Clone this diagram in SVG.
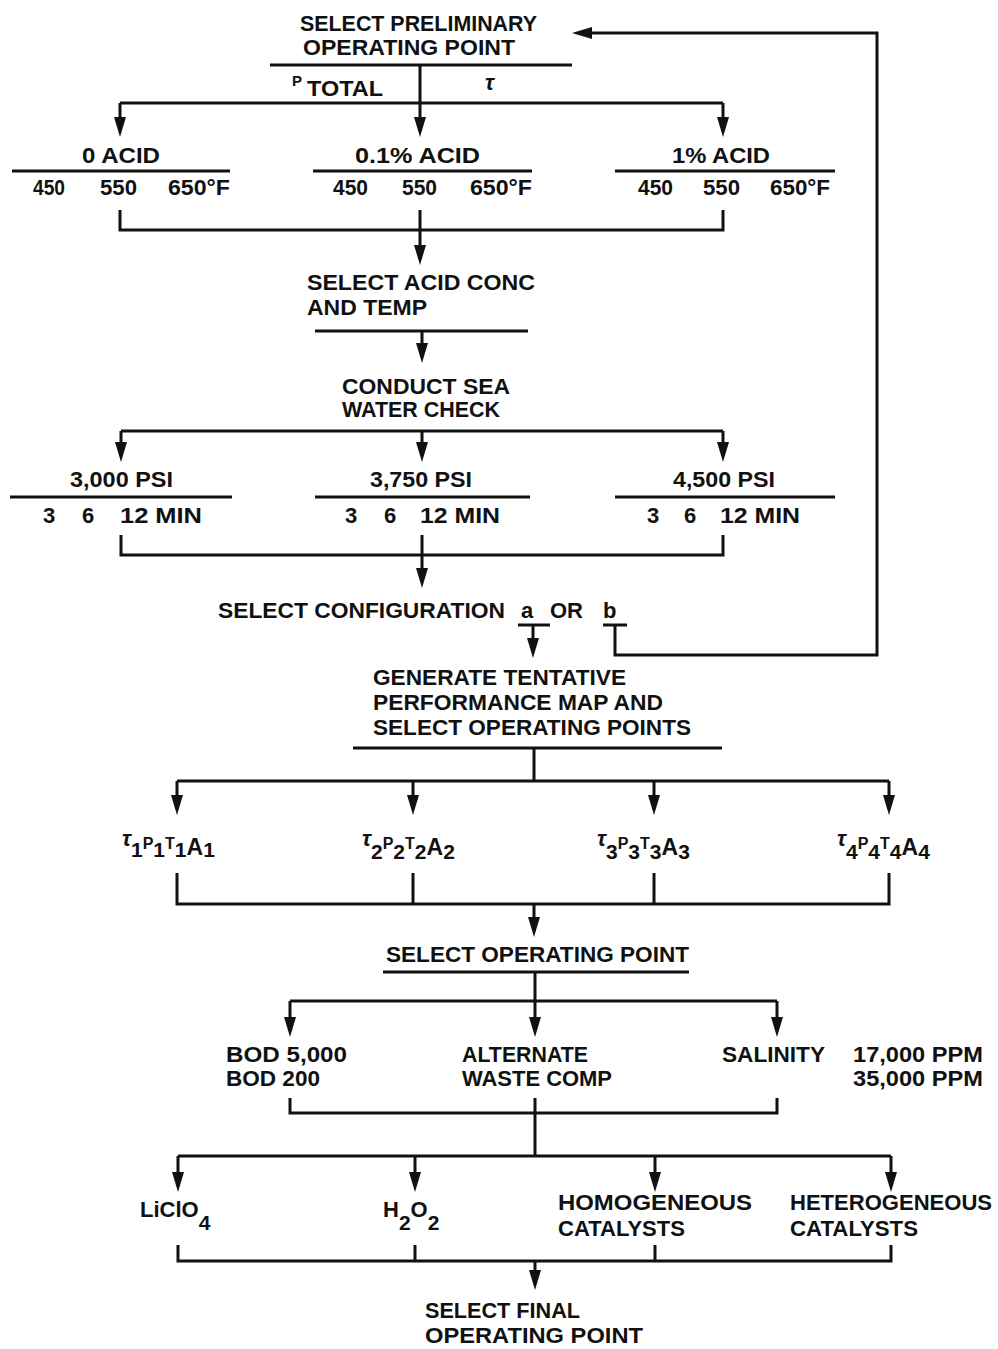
<svg xmlns="http://www.w3.org/2000/svg" width="998" height="1349" viewBox="0 0 998 1349">
<style>
.t{font-family:"Liberation Sans",Arial,sans-serif;font-weight:bold;font-size:22px;fill:#111}
.s{font-size:15px}
.d{font-size:21px}
.c{stroke:#111;stroke-width:3;fill:none}
.a{stroke:#111;stroke-width:3;fill:none;marker-end:url(#ah)}
</style>
<defs>
<marker id="ah" viewBox="0 0 20 12" refX="14" refY="6" markerWidth="20" markerHeight="12" markerUnits="userSpaceOnUse" orient="auto">
<path d="M0,0 L20,6 L0,12 z" fill="#111"/>
</marker>
</defs>
<rect width="998" height="1349" fill="#fff"/>

<g id="n-prelim">
<text class="t" x="300" y="31" textLength="237" lengthAdjust="spacingAndGlyphs">SELECT PRELIMINARY</text>
<text class="t" x="303" y="55" textLength="212" lengthAdjust="spacingAndGlyphs">OPERATING POINT</text>
<line class="c" x1="270" y1="65" x2="572" y2="65"/>
<text class="t s" x="292" y="86">P</text>
<text class="t" x="307" y="96" textLength="76" lengthAdjust="spacingAndGlyphs">TOTAL</text>
<text class="t" x="485" y="90" font-style="italic">τ</text>
</g>

<g id="n-acid0">
<text class="t" x="82" y="163" textLength="78" lengthAdjust="spacingAndGlyphs">0 ACID</text>
<line class="c" x1="12" y1="171" x2="230" y2="171"/>
<text class="t" x="33" y="195" textLength="32" lengthAdjust="spacingAndGlyphs">450</text>
<text class="t" x="100" y="195" textLength="37" lengthAdjust="spacingAndGlyphs">550</text>
<text class="t" x="168" y="195" textLength="62" lengthAdjust="spacingAndGlyphs">650°F</text>
</g>
<g id="n-acid01">
<text class="t" x="355" y="163" textLength="125" lengthAdjust="spacingAndGlyphs">0.1% ACID</text>
<line class="c" x1="313" y1="171" x2="532" y2="171"/>
<text class="t" x="333" y="195" textLength="35" lengthAdjust="spacingAndGlyphs">450</text>
<text class="t" x="402" y="195" textLength="35" lengthAdjust="spacingAndGlyphs">550</text>
<text class="t" x="470" y="195" textLength="62" lengthAdjust="spacingAndGlyphs">650°F</text>
</g>
<g id="n-acid1">
<text class="t" x="672" y="163" textLength="98" lengthAdjust="spacingAndGlyphs">1% ACID</text>
<line class="c" x1="615" y1="171" x2="835" y2="171"/>
<text class="t" x="638" y="195" textLength="35" lengthAdjust="spacingAndGlyphs">450</text>
<text class="t" x="703" y="195" textLength="37" lengthAdjust="spacingAndGlyphs">550</text>
<text class="t" x="770" y="195" textLength="60" lengthAdjust="spacingAndGlyphs">650°F</text>
</g>

<g id="n-acidconc">
<text class="t" x="307" y="290" textLength="228" lengthAdjust="spacingAndGlyphs">SELECT ACID CONC</text>
<text class="t" x="307" y="315" textLength="120" lengthAdjust="spacingAndGlyphs">AND TEMP</text>
<line class="c" x1="315" y1="331" x2="528" y2="331"/>
</g>
<g id="n-seawater">
<text class="t" x="342" y="394" textLength="168" lengthAdjust="spacingAndGlyphs">CONDUCT SEA</text>
<text class="t" x="342" y="417" textLength="158" lengthAdjust="spacingAndGlyphs">WATER CHECK</text>
</g>

<g id="n-psi3000">
<text class="t" x="70" y="487" textLength="103" lengthAdjust="spacingAndGlyphs">3,000 PSI</text>
<line class="c" x1="10" y1="497" x2="232" y2="497"/>
<text class="t" x="43" y="523">3</text>
<text class="t" x="82" y="523">6</text>
<text class="t" x="120" y="523" textLength="82" lengthAdjust="spacingAndGlyphs">12 MIN</text>
</g>
<g id="n-psi3750">
<text class="t" x="370" y="487" textLength="102" lengthAdjust="spacingAndGlyphs">3,750 PSI</text>
<line class="c" x1="315" y1="497" x2="530" y2="497"/>
<text class="t" x="345" y="523">3</text>
<text class="t" x="384" y="523">6</text>
<text class="t" x="420" y="523" textLength="80" lengthAdjust="spacingAndGlyphs">12 MIN</text>
</g>
<g id="n-psi4500">
<text class="t" x="673" y="487" textLength="102" lengthAdjust="spacingAndGlyphs">4,500 PSI</text>
<line class="c" x1="615" y1="497" x2="835" y2="497"/>
<text class="t" x="647" y="523">3</text>
<text class="t" x="684" y="523">6</text>
<text class="t" x="720" y="523" textLength="80" lengthAdjust="spacingAndGlyphs">12 MIN</text>
</g>

<g id="n-config">
<text class="t" x="218" y="618" textLength="287" lengthAdjust="spacingAndGlyphs">SELECT CONFIGURATION</text>
<text class="t" x="521" y="618">a</text>
<text class="t" x="550" y="618" textLength="33" lengthAdjust="spacingAndGlyphs">OR</text>
<text class="t" x="603" y="618">b</text>
</g>

<g id="n-generate">
<text class="t" x="373" y="685" textLength="253" lengthAdjust="spacingAndGlyphs">GENERATE TENTATIVE</text>
<text class="t" x="373" y="710" textLength="290" lengthAdjust="spacingAndGlyphs">PERFORMANCE MAP AND</text>
<text class="t" x="373" y="735" textLength="318" lengthAdjust="spacingAndGlyphs">SELECT OPERATING POINTS</text>
<line class="c" x1="353" y1="748" x2="722" y2="748"/>
</g>

<g id="n-op1">
<text class="t" x="122"><tspan y="846" font-style="italic" font-size="22">τ</tspan><tspan y="857" class="d">1</tspan><tspan y="849" font-size="16">P</tspan><tspan y="857" class="d">1</tspan><tspan y="849" font-size="16">T</tspan><tspan y="857" class="d">1</tspan><tspan y="855" font-size="23">A</tspan><tspan y="857" class="d">1</tspan></text>
</g>
<g id="n-op2">
<text class="t" x="362"><tspan y="846" font-style="italic" font-size="22">τ</tspan><tspan y="859" class="d">2</tspan><tspan y="849" font-size="16">P</tspan><tspan y="859" class="d">2</tspan><tspan y="849" font-size="16">T</tspan><tspan y="859" class="d">2</tspan><tspan y="855" font-size="23">A</tspan><tspan y="859" class="d">2</tspan></text>
</g>
<g id="n-op3">
<text class="t" x="597"><tspan y="846" font-style="italic" font-size="22">τ</tspan><tspan y="859" class="d">3</tspan><tspan y="849" font-size="16">P</tspan><tspan y="859" class="d">3</tspan><tspan y="849" font-size="16">T</tspan><tspan y="859" class="d">3</tspan><tspan y="855" font-size="23">A</tspan><tspan y="859" class="d">3</tspan></text>
</g>
<g id="n-op4">
<text class="t" x="837"><tspan y="846" font-style="italic" font-size="22">τ</tspan><tspan y="859" class="d">4</tspan><tspan y="849" font-size="16">P</tspan><tspan y="859" class="d">4</tspan><tspan y="849" font-size="16">T</tspan><tspan y="859" class="d">4</tspan><tspan y="855" font-size="23">A</tspan><tspan y="859" class="d">4</tspan></text>
</g>

<g id="n-selectop">
<text class="t" x="386" y="962" textLength="303" lengthAdjust="spacingAndGlyphs">SELECT OPERATING POINT</text>
<line class="c" x1="383" y1="972" x2="689" y2="972"/>
</g>

<g id="n-bod">
<text class="t" x="226" y="1062" textLength="121" lengthAdjust="spacingAndGlyphs">BOD 5,000</text>
<text class="t" x="226" y="1086" textLength="94" lengthAdjust="spacingAndGlyphs">BOD 200</text>
</g>
<g id="n-waste">
<text class="t" x="462" y="1062" textLength="126" lengthAdjust="spacingAndGlyphs">ALTERNATE</text>
<text class="t" x="462" y="1086" textLength="150" lengthAdjust="spacingAndGlyphs">WASTE COMP</text>
</g>
<g id="n-salinity">
<text class="t" x="722" y="1062" textLength="103" lengthAdjust="spacingAndGlyphs">SALINITY</text>
<text class="t" x="853" y="1062" textLength="130" lengthAdjust="spacingAndGlyphs">17,000 PPM</text>
<text class="t" x="853" y="1086" textLength="130" lengthAdjust="spacingAndGlyphs">35,000 PPM</text>
</g>

<g id="n-liclo4">
<text class="t" x="140"><tspan y="1217" font-size="22">LiClO</tspan><tspan y="1230" class="d">4</tspan></text>
</g>
<g id="n-h2o2">
<text class="t" x="383"><tspan y="1217" font-size="22">H</tspan><tspan y="1230" class="d">2</tspan><tspan y="1217" font-size="22">O</tspan><tspan y="1230" class="d">2</tspan></text>
</g>
<g id="n-homog">
<text class="t" x="558" y="1210" textLength="194" lengthAdjust="spacingAndGlyphs">HOMOGENEOUS</text>
<text class="t" x="558" y="1236" textLength="127" lengthAdjust="spacingAndGlyphs">CATALYSTS</text>
</g>
<g id="n-heterog">
<text class="t" x="790" y="1210" textLength="202" lengthAdjust="spacingAndGlyphs">HETEROGENEOUS</text>
<text class="t" x="790" y="1236" textLength="128" lengthAdjust="spacingAndGlyphs">CATALYSTS</text>
</g>

<g id="n-final">
<text class="t" x="425" y="1318" textLength="155" lengthAdjust="spacingAndGlyphs">SELECT FINAL</text>
<text class="t" x="425" y="1343" textLength="218" lengthAdjust="spacingAndGlyphs">OPERATING POINT</text>
</g>

<g id="connectors">
<path class="a" d="M420,65 V131"/>
<path class="c" d="M120,103 H723"/>
<path class="a" d="M120,103 V131"/>
<path class="a" d="M723,103 V131"/>
<path class="c" d="M120,210 V230 H723 V210"/>
<path class="a" d="M420,210 V259"/>
<path class="a" d="M422,331 V357"/>
<path class="c" d="M121,431 H723"/>
<path class="a" d="M121,431 V456"/>
<path class="a" d="M422,431 V456"/>
<path class="a" d="M723,431 V456"/>
<path class="c" d="M121,535 V555 H723 V535"/>
<path class="a" d="M422,535 V582"/>
<path class="c" d="M518,625 H550"/>
<path class="a" d="M533,625 V652"/>
<path class="c" d="M603,625 H627"/>
<path class="a" d="M615,625 V655 H877 V33 H578"/>
<path class="c" d="M534,748 V781"/>
<path class="c" d="M177,781 H889"/>
<path class="a" d="M177,781 V809"/>
<path class="a" d="M413,781 V809"/>
<path class="a" d="M654,781 V809"/>
<path class="a" d="M889,781 V809"/>
<path class="c" d="M177,873 V904 H889 V873"/>
<path class="c" d="M413,873 V904"/>
<path class="c" d="M654,873 V904"/>
<path class="a" d="M534,904 V931"/>
<path class="c" d="M535,972 V1001"/>
<path class="c" d="M290,1001 H777"/>
<path class="a" d="M290,1001 V1031"/>
<path class="a" d="M535,1001 V1031"/>
<path class="a" d="M777,1001 V1031"/>
<path class="c" d="M290,1098 V1113 H777 V1098"/>
<path class="c" d="M535,1098 V1156"/>
<path class="c" d="M178,1156 H891"/>
<path class="a" d="M178,1156 V1186"/>
<path class="a" d="M415,1156 V1186"/>
<path class="a" d="M655,1156 V1186"/>
<path class="a" d="M891,1156 V1186"/>
<path class="c" d="M178,1245 V1261 H891 V1245"/>
<path class="c" d="M415,1245 V1261"/>
<path class="c" d="M655,1245 V1261"/>
<path class="a" d="M535,1261 V1284"/>
</g>
</svg>
